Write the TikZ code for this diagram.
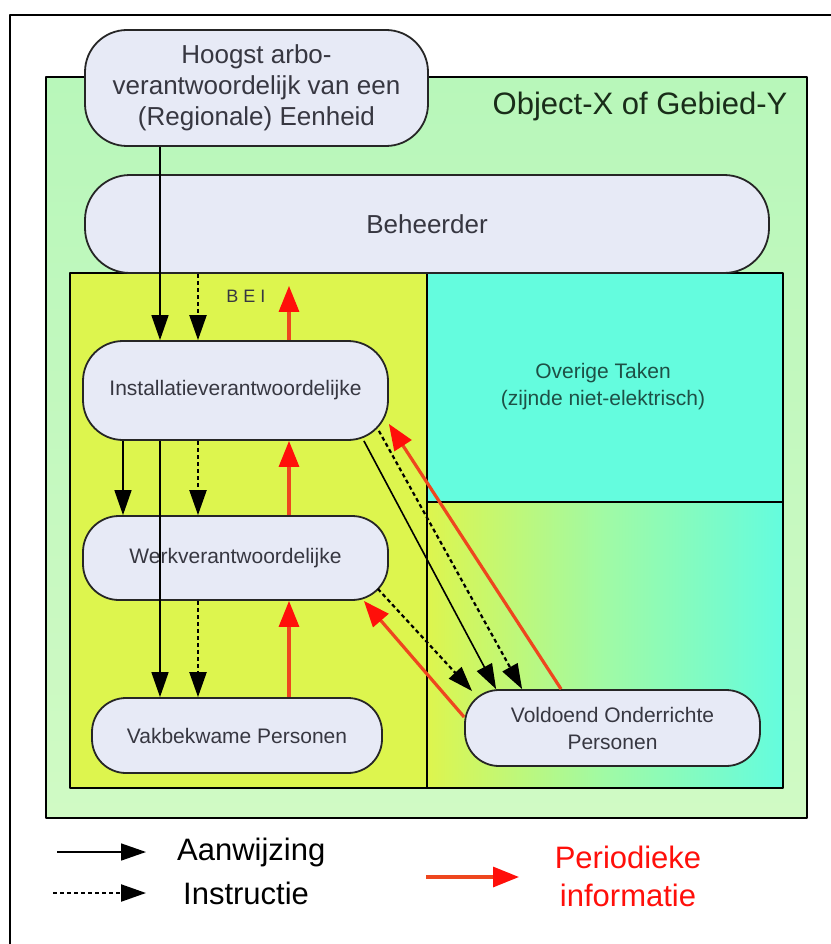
\documentclass[tikz,border=0pt]{standalone}
\usepackage{fontspec}
\setmainfont{Liberation Sans}
\usetikzlibrary{arrows.meta}
\definecolor{groen}{RGB}{184,247,186}
\definecolor{groenlicht}{RGB}{208,250,196}
\definecolor{geel}{RGB}{221,245,78}
\definecolor{turkoois}{RGB}{100,252,222}
\definecolor{midgroen}{RGB}{160,250,165}
\definecolor{lila}{RGB}{231,234,246}
\definecolor{tekst}{RGB}{55,55,65}
\definecolor{objtekst}{RGB}{25,45,25}
\definecolor{taaktekst}{RGB}{30,80,70}
\definecolor{rood}{RGB}{255,15,10}
\definecolor{oranjerood}{RGB}{238,70,30}

\begin{document}
\begin{tikzpicture}[x=1pt, y=-1pt, line join=round,
	role node/.style={draw=black!85, line width=1.8pt, fill=lila, text=tekst, align=center, inner sep=0pt, font=\fontsize{21}{27}\selectfont},
	aanwijzing/.style={-{Triangle[length=25pt,width=17pt]}, line width=1.6pt},
	instructie/.style={aanwijzing, line width=2.2pt, dash pattern=on 4pt off 3pt},
	informatie/.style={-{Triangle[length=26pt,width=20pt,color=rood,fill=rood]}, line width=3.2pt, oranjerood},
	legend text/.style={anchor=west, inner sep=0pt, font=\fontsize{31}{38}\selectfont}]
	\useasboundingbox (0,0) rectangle (830,944);
	\fill[white] (0,0) rectangle (830,944);
	\draw[line width=1.8pt] (10,15) rectangle (845,960);
	\draw[line width=1.8pt, top color=groen, bottom color=groenlicht] (46,77) rectangle (807,818);
	\fill[geel] (70,273) rectangle (427,788);
	\fill[turkoois] (427,273) rectangle (783,502);
	\shade[left color=geel, right color=turkoois, middle color=midgroen] (427,502) rectangle (783,788);
	\draw[line width=1.8pt] (70,273) rectangle (783,788) (427,273) -- (427,788) (427,502) -- (783,502);

	\node[role node, minimum width=343pt, minimum height=116pt, rounded corners=42pt, font=\fontsize{26}{31}\selectfont] (hoogst) at (256.5,88) {Hoogst arbo-\\verantwoordelijk van een\\(Regionale) Eenheid};
	\node[role node, minimum width=684pt, minimum height=98pt, rounded corners=45pt, font=\fontsize{26}{31}\selectfont] (beheerder) at (427,224) {Beheerder};
	\node[role node, minimum width=305pt, minimum height=99pt, rounded corners=40pt] (install) at (235.5,390.5) {Installatieverantwoordelijke};
	\node[role node, minimum width=305pt, minimum height=84pt, rounded corners=36pt] (werk) at (235.5,558) {Werkverantwoordelijke};
	\node[role node, minimum width=290pt, minimum height=75pt, rounded corners=34pt] (vak) at (237,735.5) {Vakbekwame Personen};
	\node[role node, minimum width=295pt, minimum height=76pt, rounded corners=34pt] (vold) at (612.5,728) {Voldoend Onderrichte\\Personen};

	\node[text=objtekst, font=\fontsize{31}{36}\selectfont] (object) at (640,106) {Object-X of Gebied-Y};
	\node[text=taaktekst, align=center, font=\fontsize{21}{27}\selectfont] (overig) at (603,387) {Overige Taken\\(zijnde niet-elektrisch)};
	\node[text=tekst, font=\fontsize{18}{20}\selectfont] (bei) at (246,296) {B E I};

	\coordinate (k1) at (123,0);
	\coordinate (k2) at (160,0);
	\coordinate (k3) at (198,0);
	\coordinate (k4) at (289,0);
	\draw[aanwijzing] (hoogst.south -| k2) -- (install.north -| k2);
	\draw[instructie] (beheerder.south -| k3) -- (install.north -| k3);
	\draw[informatie, shorten >=12pt] (install.north -| k4) -- (beheerder.south -| k4);
	\draw[aanwijzing] (install.south -| k1) -- (werk.north -| k1);
	\draw[instructie] (install.south -| k3) -- (werk.north -| k3);
	\draw[informatie] (werk.north -| k4) -- (install.south -| k4);
	\draw[aanwijzing] (install.south -| k2) -- (vak.north -| k2);
	\draw[instructie] (werk.south -| k3) -- (vak.north -| k3);
	\draw[informatie] (vak.north -| k4) -- (werk.south -| k4);
	\draw[aanwijzing] ([xshift=-25pt]install.south east) -- ([xshift=32pt]vold.north west);
	\draw[instructie] ([xshift=-10pt,yshift=10pt]install.south east) -- ([xshift=58pt]vold.north west);
	\draw[informatie] ([xshift=97pt]vold.north west) -- ([yshift=17pt]install.south east);
	\draw[instructie] ([xshift=-11pt,yshift=12pt]werk.south east) -- ([xshift=8pt,yshift=-2pt]vold.north west);
	\draw[informatie] ([yshift=11pt]vold.west) -- ([xshift=-25pt]werk.south east);

	\node[legend text] (aanw) at (177,852) {Aanwijzing};
	\node[legend text] (instr) at (183,893) {Instructie};
	\node[text=rood, align=center, font=\fontsize{31}{38}\selectfont] (info) at (628,876) {Periodieke\\informatie};
	\coordinate (l1) at (57,852);
	\coordinate (l2) at (146,852);
	\coordinate (l3) at (53,893);
	\coordinate (l4) at (146,893);
	\coordinate (l5) at (426,877);
	\coordinate (l6) at (519,877);
	\draw[aanwijzing] (l1) -- (l2);
	\draw[instructie] (l3) -- (l4);
	\draw[informatie] (l5) -- (l6);
\end{tikzpicture}
\end{document}
